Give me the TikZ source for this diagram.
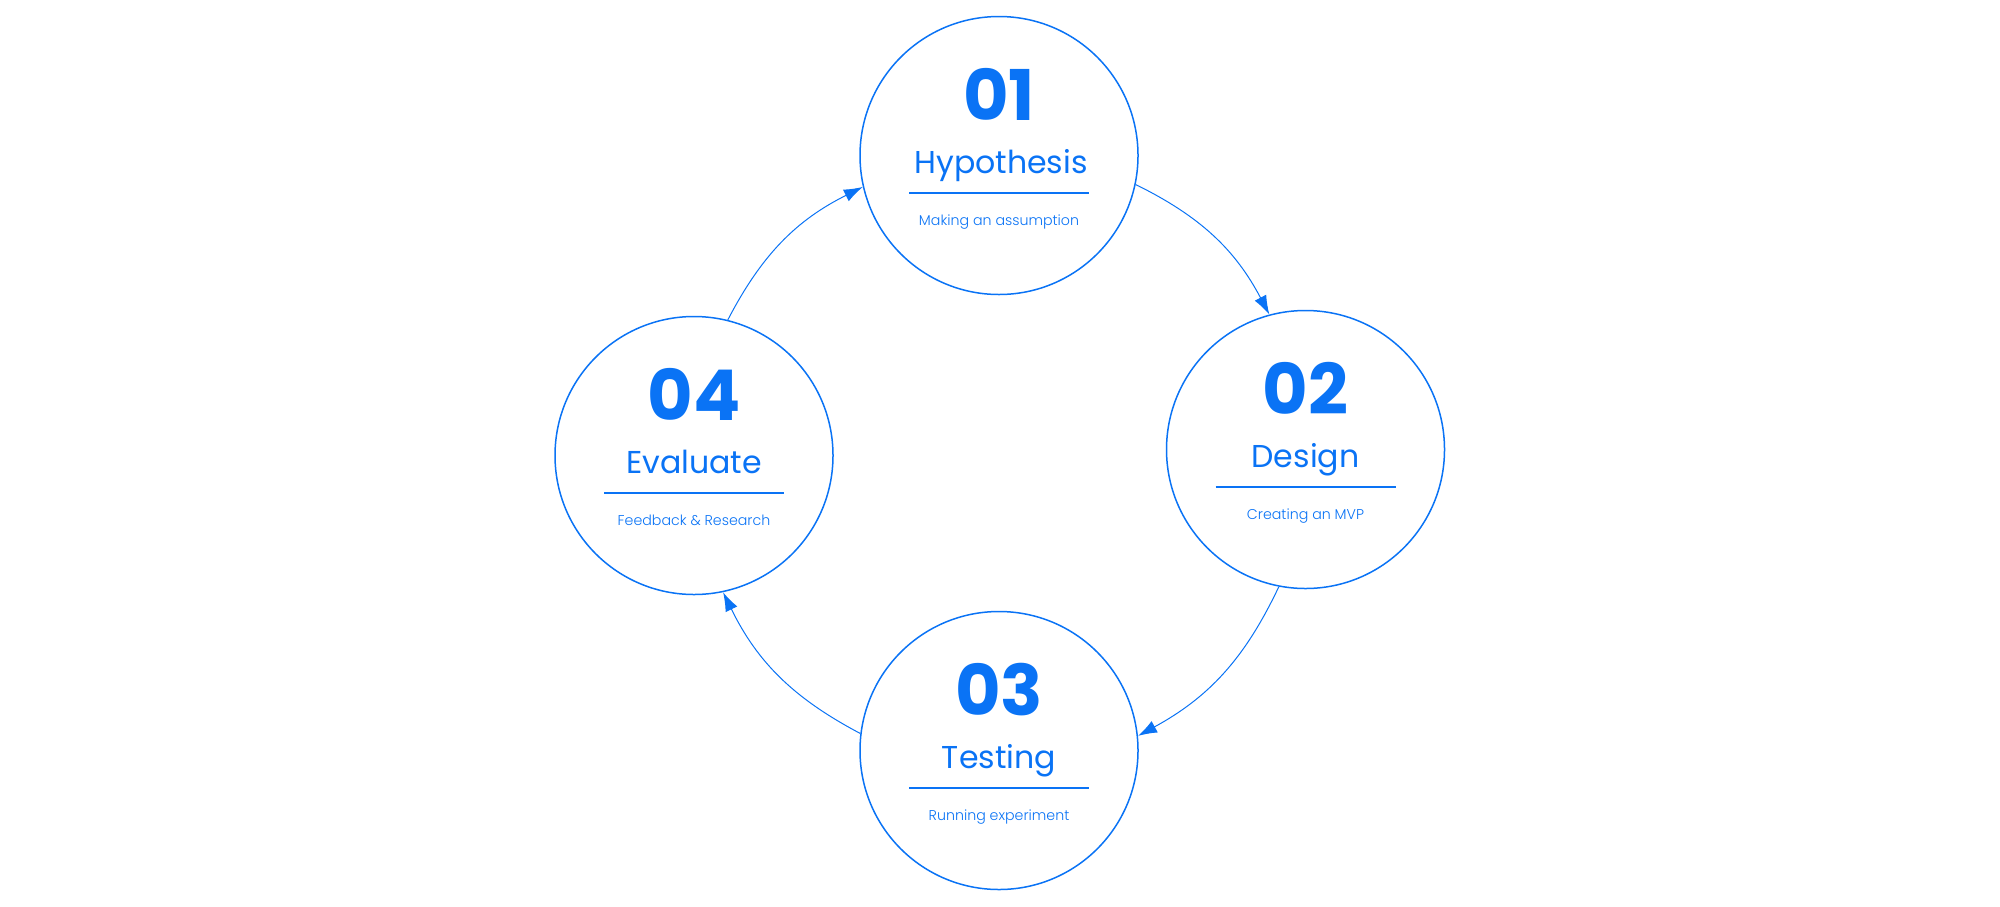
\documentclass[tikz,border=0pt]{standalone}
\usepackage{fontspec}
\setmainfont{Poppins}
\newfontfamily\lightfont{Poppins Light}
\usetikzlibrary{arrows.meta,calc}
\definecolor{cblue}{HTML}{0A73F5}
\begin{document}
\begin{tikzpicture}[x=0.5pt,y=-0.5pt,
  stage/.style={circle, draw=cblue, line width=0.75pt, minimum size=139pt, inner sep=0pt},
  num/.style={anchor=base, inner sep=0pt, text=cblue, font=\fontsize{35}{35}\selectfont\bfseries},
  ttl/.style={anchor=base, inner sep=0pt, text=cblue, font=\fontsize{15.8}{16}\selectfont},
  subt/.style={anchor=base, inner sep=0pt, text=cblue, font=\lightfont\fontsize{7.1}{8}\selectfont},
  rulebar/.style={draw=cblue, line width=1pt},
  flow/.style={draw=cblue, line width=0.5pt, -{Latex[length=9.5pt,width=6.5pt]}}
]
\useasboundingbox (0,0) rectangle (2000,906);

% circles
\node[stage] (c1) at (999,155.5) {};
\node[stage] (c2) at (1305.5,449.5) {};
\node[stage] (c3) at (999,750.5) {};
\node[stage] (c4) at (694,455.5) {};

% texts
\node[num] (n1) at ($(c1)+(0,-35.5)$) {01};
\node[ttl] (t1) at ($(c1)+(2,17.5)$) {Hypothesis};
\draw[rulebar] ($(c1)+(-90,37)$) coordinate (r1a) -- ($(c1)+(90,37)$) coordinate (r1b);
\node[subt] (s1) at ($(c1)+(0,70)$) {Making an assumption};

\node[num] (n2) at ($(c2)+(0,-35.5)$) {02};
\node[ttl] (t2) at ($(c2)+(0,17.5)$) {Design};
\draw[rulebar] ($(c2)+(-90,37)$) coordinate (r2a) -- ($(c2)+(90,37)$) coordinate (r2b);
\node[subt] (s2) at ($(c2)+(0,70)$) {Creating an MVP};

\node[num] (n3) at ($(c3)+(0,-35.5)$) {03};
\node[ttl] (t3) at ($(c3)+(0,17.5)$) {Testing};
\draw[rulebar] ($(c3)+(-90,37)$) coordinate (r3a) -- ($(c3)+(90,37)$) coordinate (r3b);
\node[subt] (s3) at ($(c3)+(0,70)$) {Running experiment};

\node[num] (n4) at ($(c4)+(0,-35.5)$) {04};
\node[ttl] (t4) at ($(c4)+(0,17.5)$) {Evaluate};
\draw[rulebar] ($(c4)+(-90,37)$) coordinate (r4a) -- ($(c4)+(90,37)$) coordinate (r4b);
\node[subt] (s4) at ($(c4)+(0,70)$) {Feedback \& Research};

% connectors
\draw[flow] (c1.-12.6) to[bend left=18] (c2.105.6);
\draw[flow] (c2.-101.3) to[bend left=18] (c3.6.8);
\draw[flow] (c3.173.2) to[bend left=18] (c4.-78.4);
\draw[flow] (c4.76.8) to[bend left=18] (c1.193);
\end{tikzpicture}
\end{document}
